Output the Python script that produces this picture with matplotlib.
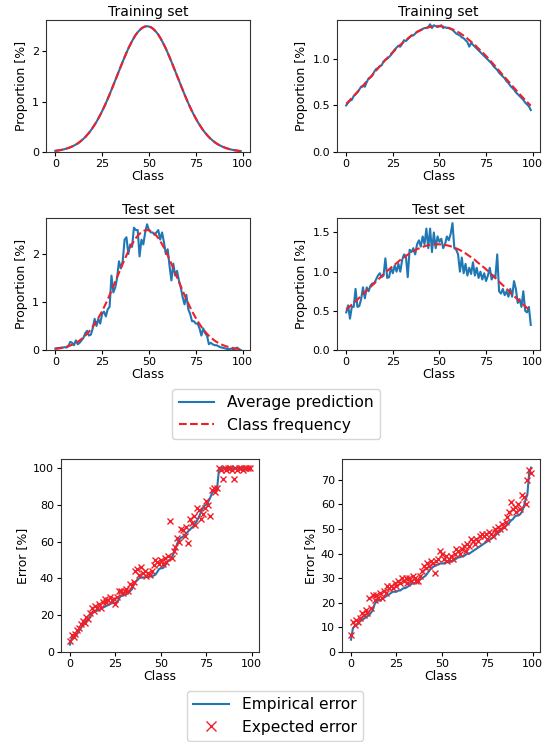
"""
plot.py

Class proportions (average prediction vs class frequency) and
per-class error (empirical vs expected) for two label distributions.
"""

import matplotlib
matplotlib.use('Agg')
import matplotlib.pyplot as plt

classes = list(range(100))

# left column: gaussian-shaped class distribution
freq_gauss = [0.023, 0.028, 0.033, 0.040, 0.048, 0.057, 0.068, 0.080, 0.094, 0.110,
              0.128, 0.149, 0.171, 0.198, 0.229, 0.261, 0.297, 0.338, 0.382, 0.430,
              0.484, 0.542, 0.601, 0.669, 0.737, 0.811, 0.889, 0.971, 1.056, 1.145,
              1.236, 1.329, 1.423, 1.516, 1.610, 1.703, 1.795, 1.886, 1.973, 2.058,
              2.133, 2.205, 2.272, 2.332, 2.381, 2.421, 2.456, 2.480, 2.495, 2.500,
              2.495, 2.480, 2.456, 2.421, 2.381, 2.332, 2.272, 2.205, 2.133, 2.058,
              1.973, 1.886, 1.795, 1.703, 1.610, 1.516, 1.423, 1.329, 1.236, 1.145,
              1.056, 0.971, 0.889, 0.811, 0.737, 0.669, 0.601, 0.542, 0.484, 0.430,
              0.382, 0.338, 0.297, 0.261, 0.229, 0.198, 0.171, 0.149, 0.128, 0.110,
              0.094, 0.080, 0.068, 0.057, 0.048, 0.040, 0.033, 0.028, 0.023, 0.019]

pred_train_gauss = freq_gauss

pred_test_gauss = [0.03, 0.04, 0.04, 0.05, 0.05, 0.06, 0.05, 0.08, 0.17, 0.15,
                   0.10, 0.20, 0.12, 0.15, 0.20, 0.25, 0.35, 0.40, 0.30, 0.32,
                   0.45, 0.65, 0.50, 0.65, 0.55, 0.75, 0.80, 0.70, 0.85, 0.90,
                   1.55, 1.20, 1.30, 1.50, 1.85, 1.70, 1.85, 2.30, 2.35, 2.00,
                   2.20, 2.15, 2.55, 2.50, 2.50, 1.95, 2.30, 2.20, 2.45, 2.62,
                   2.50, 2.45, 2.45, 2.40, 2.45, 2.50, 2.30, 2.45, 2.25, 2.00,
                   2.10, 1.75, 1.45, 1.80, 1.55, 1.65, 1.45, 1.30, 1.10, 0.95,
                   1.15, 0.85, 0.75, 0.60, 0.60, 0.55, 0.55, 0.45, 0.30, 0.45,
                   0.35, 0.30, 0.12, 0.15, 0.12, 0.10, 0.10, 0.08, 0.06, 0.05,
                   0.04, 0.03, 0.02, 0.02, 0.03, 0.01, 0.02, 0.05, 0.02, 0.00]

# right column: flatter class distribution
freq_flat = [0.517, 0.537, 0.558, 0.579, 0.600, 0.622, 0.644, 0.667, 0.689, 0.712,
             0.735, 0.758, 0.781, 0.804, 0.827, 0.850, 0.873, 0.896, 0.919, 0.942,
             0.964, 0.987, 1.009, 1.030, 1.051, 1.070, 1.089, 1.109, 1.128, 1.150,
             1.166, 1.184, 1.200, 1.217, 1.234, 1.248, 1.262, 1.275, 1.287, 1.297,
             1.307, 1.316, 1.324, 1.331, 1.337, 1.341, 1.345, 1.348, 1.349, 1.350,
             1.349, 1.348, 1.345, 1.341, 1.337, 1.331, 1.324, 1.316, 1.307, 1.297,
             1.287, 1.275, 1.262, 1.248, 1.234, 1.217, 1.200, 1.184, 1.166, 1.150,
             1.128, 1.109, 1.089, 1.070, 1.051, 1.030, 1.009, 0.987, 0.964, 0.942,
             0.919, 0.896, 0.873, 0.850, 0.827, 0.804, 0.781, 0.758, 0.735, 0.712,
             0.689, 0.667, 0.644, 0.622, 0.600, 0.579, 0.558, 0.537, 0.517, 0.497]

pred_train_flat = [0.50, 0.53, 0.55, 0.56, 0.60, 0.62, 0.64, 0.67, 0.70, 0.71,
                   0.70, 0.75, 0.79, 0.80, 0.82, 0.86, 0.89, 0.90, 0.92, 0.93,
                   0.97, 0.99, 1.00, 1.02, 1.04, 1.07, 1.10, 1.12, 1.14, 1.13,
                   1.16, 1.20, 1.19, 1.21, 1.23, 1.25, 1.25, 1.27, 1.29, 1.30,
                   1.31, 1.32, 1.33, 1.33, 1.34, 1.37, 1.33, 1.36, 1.35, 1.34,
                   1.35, 1.36, 1.33, 1.34, 1.33, 1.33, 1.32, 1.31, 1.29, 1.27,
                   1.26, 1.25, 1.23, 1.22, 1.20, 1.18, 1.13, 1.17, 1.15, 1.13,
                   1.11, 1.09, 1.07, 1.05, 1.03, 1.01, 0.99, 0.97, 0.95, 0.92,
                   0.90, 0.88, 0.85, 0.83, 0.81, 0.79, 0.76, 0.74, 0.71, 0.69,
                   0.67, 0.64, 0.62, 0.60, 0.58, 0.56, 0.53, 0.51, 0.49, 0.45]

pred_test_flat = [0.48, 0.57, 0.40, 0.55, 0.55, 0.78, 0.55, 0.56, 0.65, 0.80,
                  0.66, 0.80, 0.75, 0.82, 0.85, 0.85, 0.90, 0.95, 0.98, 0.93,
                  0.95, 1.17, 0.92, 0.93, 1.05, 0.98, 1.08, 1.00, 1.10, 1.00,
                  1.15, 1.22, 1.20, 0.93, 1.28, 1.25, 1.30, 1.22, 1.35, 1.40,
                  1.32, 1.45, 1.35, 1.55, 1.30, 1.55, 1.25, 1.50, 1.30, 1.45,
                  1.38, 1.42, 1.30, 1.35, 1.45, 1.40, 1.48, 1.62, 1.30, 1.28,
                  1.22, 1.00, 1.18, 0.98, 1.10, 0.95, 1.05, 0.97, 1.12, 0.95,
                  1.05, 0.92, 1.00, 0.90, 0.98, 0.88, 0.95, 1.05, 0.90, 0.95,
                  0.92, 1.22, 0.75, 0.72, 0.78, 0.70, 0.75, 0.68, 0.78, 0.68,
                  0.88, 0.78, 0.60, 0.65, 0.55, 0.75, 0.50, 0.48, 0.55, 0.32]

# per-class error [%]
emp_err_gauss = [4, 7.5, 8, 9, 10, 11.5, 13, 14.5, 16, 17,
                 18, 19, 21, 21.5, 22, 22.5, 23, 23.5, 24, 24.5,
                 25, 25.5, 26, 26.5, 26.5, 26.5, 27, 29, 30.5, 30.5,
                 31, 31.5, 32, 33, 34, 36.5, 38, 39, 40, 40.5,
                 40.5, 40.5, 41, 41, 41, 41, 41.5, 42, 43.5, 45,
                 45.5, 45.5, 46.5, 48, 49.5, 50, 51.5, 53.5, 56, 59,
                 61, 62, 62.5, 63.5, 64.5, 65.5, 66.5, 67.5, 68.5, 70,
                 71.5, 73.5, 76, 78, 79.5, 80, 81.5, 83.5, 86, 87.5,
                 88.5, 89.5, 100, 100, 100, 100, 100, 100, 100, 100,
                 100, 100, 100, 100, 100, 100, 100, 100, 100, 100]

exp_err_gauss = [6, 9, 8, 10, 12, 13, 15, 17, 16, 19,
                 18, 21, 24, 22, 25, 24, 26, 24, 27, 29,
                 27, 28, 30, 28, 29, 26, 30, 33, 33, 32,
                 33, 34, 33, 37, 36, 38, 44, 45, 42, 46,
                 43, 44, 41, 43, 42, 44, 47, 50, 49, 48,
                 50, 48, 51, 49, 52, 71, 51, 55, 57, 62,
                 60, 67, 66, 63, 68, 59, 72, 70, 74, 69,
                 78, 77, 72, 75, 78, 82, 80, 74, 88, 89,
                 87, 89, 100, 99, 94, 100, 99, 100, 100, 99,
                 94, 100, 99, 100, 100, 99, 100, 100, 100, 100]

emp_err_flat = [5, 9.5, 10.5, 11, 11.5, 12.5, 13, 13.5, 14, 14.5,
                15, 16, 17, 19.5, 20.5, 21, 21, 21.5, 22, 22.5,
                23, 23.5, 24, 24.5, 24.5, 24.5, 25, 25, 25.5, 26,
                26, 26.5, 27, 27.5, 28, 28, 28.5, 29, 29.5, 30,
                30.5, 31, 32, 33, 34, 34.5, 35, 35.5, 35.5, 36,
                36, 36, 36.5, 36.5, 36.5, 37, 37, 37.5, 38, 38.5,
                38.5, 39, 39, 39.5, 40, 40, 40.5, 41, 41.5, 42,
                42.5, 43, 43.5, 44, 44.5, 45, 45.5, 46, 46.5, 47,
                48, 48.5, 49, 50, 50.5, 51, 52, 52.5, 53.5, 54,
                55, 55.5, 55.5, 56, 57, 59, 62, 64, 73, 75]

exp_err_flat = [7, 12, 11, 13, 12, 14, 16, 15, 17, 16,
                22, 18, 23, 21, 23, 22, 24, 22, 25, 24,
                27, 26, 27, 26, 28, 27, 29, 28, 30, 29,
                30, 28, 30, 29, 31, 30, 29, 29, 31, 33,
                35, 34, 36, 35, 37, 36, 32, 37, 38, 41,
                40, 38, 39, 37, 38, 39, 38, 40, 42, 41,
                40, 42, 43, 41, 44, 43, 46, 45, 44, 46,
                45, 47, 48, 47, 48, 46, 49, 48, 47, 50,
                49, 51, 50, 52, 51, 53, 55, 57, 61, 58,
                59, 57, 60, 58, 64, 63, 60, 70, 74, 73]

W, H = 553, 742
BLUE = '#1f77b4'
RED = '#f0202a'


def px_axes(fig, left, top, right, bottom):
    # axes placed from pixel coordinates of the reference
    return fig.add_axes([left / W, 1 - bottom / H, (right - left) / W, (bottom - top) / H])


def style(ax, ylabel, title=None):
    ax.set_xlabel('Class', fontsize=9, labelpad=1)
    ax.set_ylabel(ylabel, fontsize=9, labelpad=3)
    ax.tick_params(labelsize=8, length=3, pad=2)
    ax.set_xticks([0, 25, 50, 75, 100])
    ax.set_ylim(bottom=0)
    for s in ax.spines.values():
        s.set_edgecolor('#333333')
    if title:
        ax.set_title(title, fontsize=10, pad=3)


def plot_props(ax, pred, freq, title):
    ax.plot(classes, pred, color=BLUE, lw=1.5, label='Average prediction')
    ax.plot(classes, freq, '--', color=RED, lw=1.5, label='Class frequency')
    style(ax, 'Proportion [%]', title)


def plot_errors(ax, emp, expct):
    ax.plot(classes, emp, color=BLUE, lw=1.5, label='Empirical error')
    ax.plot(classes, expct, 'x', color=RED, ms=5, mew=1.0, linestyle='none',
            label='Expected error')
    style(ax, 'Error [%]')


fig = plt.figure(figsize=(W / 100, H / 100), dpi=100)

ax1 = px_axes(fig, 46, 20, 250, 152)
ax2 = px_axes(fig, 337, 20, 540, 152)
ax3 = px_axes(fig, 46, 218, 250, 350)
ax4 = px_axes(fig, 337, 218, 540, 350)
ax5 = px_axes(fig, 61, 459, 259, 652)
ax6 = px_axes(fig, 342, 459, 540, 652)

plot_props(ax1, pred_train_gauss, freq_gauss, 'Training set')
plot_props(ax2, pred_train_flat, freq_flat, 'Training set')
plot_props(ax3, pred_test_gauss, freq_gauss, 'Test set')
plot_props(ax4, pred_test_flat, freq_flat, 'Test set')
ax2.set_yticks([0.0, 0.5, 1.0])
ax4.set_yticks([0.0, 0.5, 1.0, 1.5])

plot_errors(ax5, emp_err_gauss, exp_err_gauss)
plot_errors(ax6, emp_err_flat, exp_err_flat)

h, l = ax1.get_legend_handles_labels()
fig.legend(h, l, loc='center', bbox_to_anchor=(276 / W, 1 - 414 / H), fontsize=11.2,
           handlelength=2.3, borderpad=0.4, labelspacing=0.5, markerscale=1.5)
h, l = ax5.get_legend_handles_labels()
fig.legend(h, l, loc='center', bbox_to_anchor=(275 / W, 1 - 716 / H), fontsize=11.2,
           handlelength=2.3, borderpad=0.4, labelspacing=0.5, markerscale=1.5)

fig.savefig('out.png', dpi=100)
